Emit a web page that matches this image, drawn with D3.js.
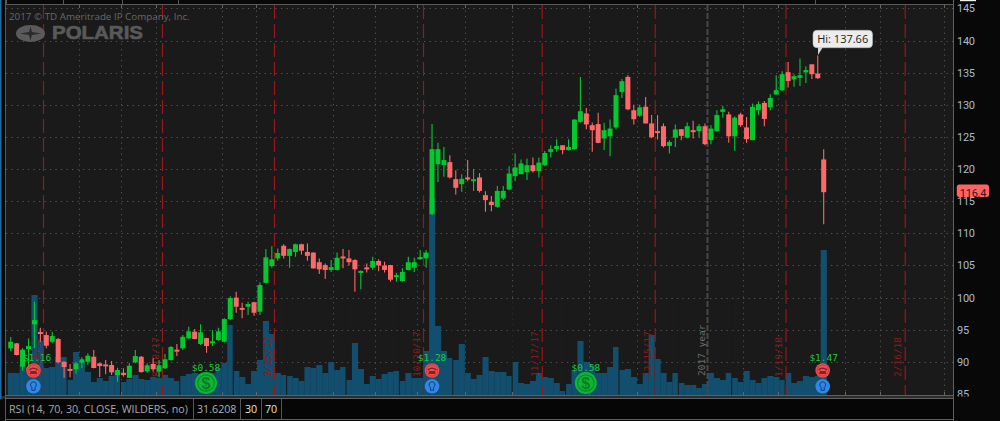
<!DOCTYPE html>
<html>
<head>
<meta charset="utf-8">
<style>
html,body{margin:0;padding:0;background:#0a0a0a;overflow:hidden}
svg{display:block}
text{white-space:pre}
</style>
<script src="https://cdn.jsdelivr.net/npm/d3@7/dist/d3.min.js"></script>
</head>
<body>
<svg id="c" width="1000" height="421"></svg>
<script>
const opens=[92.1,92.88,89.25,91.99,95.84,94.65,94.17,93.13,93.55,90.02,88.9,88.84,89.87,90.02,90.8,89.77,89.6,89.51,87.95,88.3,87.5,89.93,90.8,88.53,89.67,88.47,89,90.29,91.9,92.1,93.66,94.69,92.78,93.7,93,93.4,93.13,96.66,100,98.4,98.57,99.27,97.8,102.3,104.9,106.1,108.06,106.5,107.1,108.3,107.1,107,105.5,105.06,104.3,104.3,106.4,106.1,105.84,104,104.7,104.65,105.7,105,105.06,103.2,102.57,104.3,104.65,106.1,106.1,113,120.76,120.6,121.08,118.43,117.65,118.7,118.12,118.7,115.94,114.9,114.13,115.43,116.83,118.9,119.2,119.5,120.6,119.67,120.6,122.68,123.1,123.7,122.95,123.1,127.34,128.65,126.83,127,124.77,125.1,126.48,132,134.34,129.15,128.3,129.7,127.1,125.9,126.67,123.6,124.9,126.2,124.9,126.05,125.9,126.67,124.5,125.9,128.9,128.5,125.1,128.5,126.48,124.5,129.15,130.3,129.6,131.6,132.27,135.07,133.94,134.2,135.05,136.3,134.87,121.5];
const highs=[93.86,92.95,92.1,93.66,99.35,95.3,94.69,94.69,93.7,90.05,89.67,90.02,90.7,91.33,91.84,89.87,90.29,90.13,89.09,89,89.77,91.84,90.9,89.77,90.55,90.29,91.22,92.46,92.78,94.17,95.47,95.1,95.84,93.75,94.95,95.3,96.8,100.2,100.9,99.2,99.35,99.35,102.37,107.55,108,107.65,108.3,107.65,108.4,108.4,108.4,107.05,106.1,105.3,105.84,107,107.55,107.4,105.95,104.2,105.3,106.35,105.95,105.57,105.1,103.86,104.55,106.35,106.2,107.4,107.4,127,124.08,123.45,122.16,119.83,119.2,121.4,120,119.37,116.56,115.8,117.35,117.35,120.45,122.43,121.5,121.65,121.8,121.8,122.83,123.7,124.65,123.7,124.65,127.75,134.34,129.5,127.25,128.75,127.2,127.7,132.54,134,134.6,130,130,131.2,128.4,128.4,127.1,124.5,126.94,126.2,127.25,127.5,127,127.1,126.83,129.15,129.8,128.9,128.23,128.75,128.1,130.2,130.56,130.6,131.65,134.6,135.22,136.67,134.76,137.2,136,136.3,137.66,123.1];
const lows=[91.69,91,88.6,89.15,92.15,93.13,92.1,92.88,89.8,87.53,87.6,88.2,89,89.51,89,87.64,88.06,87.95,86.9,87.7,87.44,89.77,88.3,88.3,88.47,87.6,88.89,90.18,90.9,91.84,93.55,93.5,92.62,91.42,92.46,93.3,93,96.5,97.64,96.77,97.3,97.18,97.3,102.2,104.64,105.73,106.1,104.64,106.35,106.7,105.73,104.5,103.66,102.9,104,104.2,104.55,105,100.9,101.3,103.9,104.3,104.1,103.9,102.47,102.47,102.47,104.2,104,105.84,104.64,112.84,118,118.8,118.54,116.05,116.46,118.12,116.6,116.36,113.35,113.45,114,115.17,116.7,118.12,119.2,118.3,119.47,118.7,120.45,121.8,122.68,122.3,122.9,123,127.2,126.2,122.68,124,122.95,122,126.2,131.07,129.15,126.94,128.1,127.1,124.8,124.6,123.36,122.43,123.45,124.5,124.77,124.77,124.9,123.7,123.88,125.8,128,124.08,122.83,126.56,124.08,124.5,128.4,126.67,129.15,131.6,132.16,132.7,132.8,132.94,133.4,134,134,111.4];
const closes=[93.13,91.07,91.89,92.46,96.5,94.5,92.51,94.02,89.93,89.2,88.8,89.77,90.4,90.96,89.04,89.35,89.5,88.37,88.73,87.95,89.4,90.9,88.42,89.46,88.84,89.46,90.4,92.31,91.7,93.9,94.75,93.55,94.6,92.46,93.2,94.75,96.66,99.93,98.58,98.25,99,97.64,101.95,106.26,105.95,106.93,106.5,107.55,108.3,107.3,106.5,104.55,104.4,104.3,104.75,106.2,106.25,105.5,104.4,104.15,104.55,105.7,105,104.3,102.78,103.5,104,105.5,105.5,106.3,107,123.1,123.1,121.4,118.7,117.08,118.48,118.43,118.43,116.6,115.17,114.4,116.6,116.6,119.3,120.25,120.87,120.6,119.67,121,122.5,123.1,123.6,122.95,123.45,127.7,129,126.94,126.05,124.08,126.05,126.3,131.5,133.67,129.3,127.76,129.6,127.1,124.96,125.63,123.56,124.2,126.16,125.17,126.67,125.74,126.67,123.88,126.3,128.4,129.3,125.1,128,126.83,124.65,129.68,130.1,127.8,131.07,132.27,134.76,133.7,134.45,134.6,135.4,134.76,134.14,116.4];
const volumes=[22,22,30,28,100,54,27,28,38,38,15,43,34,23,13,17,14,19,23,13,16,20,16,15,18,17,20,17,14,19,21,22,21,22,22,27,32,70,24,18,11,24,35,74,61,22,20,19,17,14,28,27,30,22,33,25,28,15,52,26,11,19,16,21,23,24,14,22,17,17,44,196,69,44,37,35,51,22,16,20,38,24,23,23,19,33,12,11,14,22,18,17,12,4,11,25,54,33,30,22,22,28,48,25,26,18,11,22,60,36,22,13,22,12,10,10,7,11,22,17,15,22,17,13,24,15,12,17,19,18,15,22,12,14,19,18,19,145];
const periodEnds=[9,18,28,37,46,56,65,74,84,93,102,112,121,130];
const priceTicks=[145,140,135,130,125,120,115,110,105,100,95,90,85];
const gridXs=[79,121,156,222,256,333,375,417,465,512,589,637,743,778,845,880,944];
const expiryXs=[43,162,274,423,541.7,654.7,785.5,904.7];
const expiryLabels=["7/21/17","8/18/17","9/15/17","10/20/17","11/17/17","12/15/17","1/19/18","2/16/18"];
const yearX=707, yearLabel="2017 year";
const earnings=[{i:4,t:"$1.16"},{i:71,t:"$1.28"},{i:137,t:"$1.47"}];
const dividends=[{i:33,t:"$0.58"},{i:97,t:"$0.58"}];
const rsiFields=["RSI (14, 70, 30, CLOSE, WILDERS, no)","31.6208","30","70"];
const hiText="Hi: 137.66", lastText="116.4";
const copyright="2017 © TD Ameritrade IP Company, Inc.", logoText="POLARIS";

const svg=d3.select("#c");
const x=d3.scaleLinear().domain([0,137]).range([10.7,823.7]);
const y=d3.scaleLinear().domain([85,145]).range([394,8.4]);
const v=d3.scaleLinear().domain([0,200]).range([395,195]);
const step=x(1)-x(0);
const GREEN="#04c830",RED="#ff6868",BLUE="#124f6e",EVT="#9c1616";

svg.append("rect").attr("width",1000).attr("height",421).attr("fill","#080808");
svg.append("rect").attr("x",6).attr("y",4).attr("width",947).attr("height",392).attr("fill","#1a1a1a");
svg.append("defs").append("clipPath").attr("id","plot").append("rect").attr("x",6).attr("y",5).attr("width",947).attr("height",391);
svg.select("defs").append("clipPath").attr("id","axisclip").append("rect").attr("x",954).attr("y",0).attr("width",46).attr("height",396.5);

const plot=svg.append("g").attr("clip-path","url(#plot)");
// grid
plot.append("g").selectAll("line").data(priceTicks.filter(d=>d>85)).join("line")
 .attr("x1",6).attr("x2",953).attr("y1",d=>Math.round(y(d))+.5).attr("y2",d=>Math.round(y(d))+.5)
 .attr("stroke","#545454").attr("stroke-dasharray","1.3,4.2");
plot.append("g").selectAll("line").data(gridXs).join("line")
 .attr("x1",d=>d+.5).attr("x2",d=>d+.5).attr("y1",5).attr("y2",396)
 .attr("stroke","#505050").attr("stroke-dasharray","1.3,4.2");
// volume
plot.append("g").selectAll("rect").data(volumes).join("rect")
 .attr("x",(d,i)=>x(i)-step/2).attr("width",step+.2).attr("y",d=>v(d)).attr("height",d=>395.5-v(d)).attr("fill",BLUE);
plot.append("g").selectAll("line").data(periodEnds).join("line")
 .attr("x1",d=>x(d)+step/2).attr("x2",d=>x(d)+step/2).attr("y1",300).attr("y2",396)
 .attr("stroke","#1a1a1a").attr("stroke-width",1);
// expiry lines
plot.append("g").selectAll("line").data(expiryXs).join("line")
 .attr("x1",d=>d+.5).attr("x2",d=>d+.5).attr("y1",5).attr("y2",396)
 .attr("stroke",EVT).attr("stroke-width",1.2).attr("stroke-dasharray","14,5");
plot.append("line").attr("x1",yearX+.5).attr("x2",yearX+.5).attr("y1",5).attr("y2",396)
 .attr("stroke","#474747").attr("stroke-width",2).attr("stroke-dasharray","6,2");
plot.append("g").selectAll("text").data(expiryLabels).join("text")
 .attr("transform",(d,i)=>`translate(${expiryXs[i]-3.5},377) rotate(-90)`)
 .attr("font-family","'DejaVu Sans Mono'").attr("font-size",9.5).attr("fill","#8c1a1a").text(d=>d);
plot.append("text").attr("transform",`translate(${yearX-2.5},376) rotate(-90)`)
 .attr("font-family","'DejaVu Sans Mono'").attr("font-size",9.5).attr("fill","#6e6e6e").text(yearLabel);
// watermark
plot.append("text").attr("x",9).attr("y",20).attr("font-family","'Open Sans'").attr("font-size",9.8).attr("fill","#686868").text(copyright);
plot.append("ellipse").attr("cx",30.5).attr("cy",33.5).attr("rx",14.5).attr("ry",8.5).attr("fill","#5a5a5a");
plot.append("path").attr("d","M30.5,26.5 L32,32 L41,33.5 L32,35 L30.5,40.5 L29,35 L20,33.5 L29,32Z").attr("fill","#2b2b2b");
plot.append("text").attr("x",52).attr("y",39).attr("font-family","'Liberation Sans'").attr("font-weight","bold").attr("font-size",17.5).attr("fill","#595959").attr("stroke","#595959").attr("stroke-width",.6).attr("textLength",91).attr("lengthAdjust","spacingAndGlyphs").text(logoText);
// candles
const idx=d3.range(opens.length);
const col=i=>closes[i]>=opens[i]?GREEN:RED;
const cg=plot.append("g");
cg.selectAll("line").data(idx).join("line")
 .attr("x1",i=>x(i)).attr("x2",i=>x(i)).attr("y1",i=>y(highs[i])).attr("y2",i=>y(lows[i]))
 .attr("stroke",i=>col(i)).attr("stroke-width",1.1);
cg.selectAll("rect").data(idx).join("rect")
 .attr("x",i=>x(i)-2.5).attr("width",5)
 .attr("y",i=>y(Math.max(opens[i],closes[i])))
 .attr("height",i=>Math.max(2,Math.abs(y(opens[i])-y(closes[i]))))
 .attr("fill",i=>col(i));
// event icons
const mono={"font-family":"'DejaVu Sans Mono'","font-size":9.5,"fill":"#1fc83a","text-anchor":"middle"};
function attrs(s,o){for(const k in o)s.attr(k,o[k]);return s}
earnings.forEach(e=>{
 const cx=x(e.i)-(e.i==4?1:0)-(e.i==137?1:0);
 attrs(plot.append("text").attr("x",e.i==4?37:x(e.i)).attr("y",361),mono).text(e.t);
 const r=plot.append("g").attr("transform",`translate(${cx},370.5)`);
 r.append("circle").attr("r",7.3).attr("fill","#f34c4c");
 r.append("circle").attr("r",5.7).attr("fill","none").attr("stroke","#a83838").attr("stroke-width",.7);
 r.append("path").attr("d","M-4.3,-1.6 Q0,-4.6 4.3,-1.6 L4.3,-.2 L2.2,-.2 L2.2,-1.4 L-2.2,-1.4 L-2.2,-.2 L-4.3,-.2Z M-3,0.4 L3,0.4 L3.6,3.4 L-3.6,3.4Z").attr("fill","#7d2526");
 const b=plot.append("g").attr("transform",`translate(${cx},386.3)`);
 b.append("circle").attr("r",7.3).attr("fill","#2f87e8");
 b.append("path").attr("d","M0,-4.5 A3,3 0 0 1 1.6,1 L1.6,4 L-1.6,4 L-1.6,1 A3,3 0 0 1 0,-4.5Z").attr("fill","none").attr("stroke","#123f70").attr("stroke-width",1);
});
dividends.forEach(e=>{
 const cx=e.i==33?206:x(e.i)-.5;
 attrs(plot.append("text").attr("x",cx).attr("y",370.5),mono).text(e.t);
 const g=plot.append("g").attr("transform",`translate(${cx},383)`);
 g.append("circle").attr("r",11).attr("fill","#0cb832");
 g.append("circle").attr("r",8.2).attr("fill","none").attr("stroke","#0a8a2b").attr("stroke-width",1.2);
 g.append("text").attr("y",5.5).attr("text-anchor","middle").attr("font-family","'Liberation Sans'").attr("font-size",16).attr("font-weight","bold").attr("fill","#0a7a28").text("$");
});
// frame top and bottom
svg.append("rect").attr("x",6).attr("y",0).attr("width",947).attr("height",4).attr("fill","#080808");
svg.append("line").attr("x1",5).attr("x2",954).attr("y1",4.5).attr("y2",4.5).attr("stroke","#5a5a5a");
svg.append("g").selectAll("line").data([6.5,63.5,122.5,178.5,815.5]).join("line").attr("x1",d=>d).attr("x2",d=>d).attr("y1",0).attr("y2",4).attr("stroke","#5a5a5a");
svg.append("g").selectAll("line").data(gridXs).join("line").attr("x1",d=>d+.5).attr("x2",d=>d+.5).attr("y1",5).attr("y2",8).attr("stroke","#666");
svg.append("g").selectAll("line").data(gridXs).join("line").attr("x1",d=>d+.5).attr("x2",d=>d+.5).attr("y1",392).attr("y2",396).attr("stroke","#666");
svg.append("rect").attr("x",0).attr("y",396).attr("width",954).attr("height",3).attr("fill","#2c2c2c");
svg.append("line").attr("x1",5).attr("x2",954).attr("y1",395.5).attr("y2",395.5).attr("stroke","#5f5f5f");
svg.append("line").attr("x1",5).attr("x2",954).attr("y1",398.5).attr("y2",398.5).attr("stroke","#5f5f5f");
svg.append("rect").attr("x",6).attr("y",399).attr("width",947).attr("height",20).attr("fill","#060606");
svg.append("line").attr("x1",5).attr("x2",954).attr("y1",419.5).attr("y2",419.5).attr("stroke","#5f5f5f");
svg.append("rect").attr("x",0).attr("y",0).attr("width",1.5).attr("height",399).attr("fill","#1f6a9e");
svg.append("line").attr("x1",5.5).attr("x2",5.5).attr("y1",0).attr("y2",421).attr("stroke","#5a5a5a");
svg.append("line").attr("x1",953.5).attr("x2",953.5).attr("y1",0).attr("y2",421).attr("stroke","#5f5f5f");
// RSI bar
const f=[{x:9,c:"#a8a8a8"},{x:197,c:"#b0b0b0"},{x:245,c:"#e8e4c8"},{x:265,c:"#e8e4c8"}];
svg.append("g").selectAll("text").data(rsiFields).join("text")
 .attr("x",(d,i)=>f[i].x).attr("y",413).attr("font-family","'Open Sans'").attr("font-size",10.7)
 .attr("fill",(d,i)=>f[i].c).text(d=>d);
svg.append("g").selectAll("line").data([193.5,240.5,261.5,281.5]).join("line")
 .attr("x1",d=>d).attr("x2",d=>d).attr("y1",399).attr("y2",419).attr("stroke","#555");
// price axis
const ax=svg.append("g").attr("clip-path","url(#axisclip)").append("g").attr("transform","translate(953.5,0)")
 .call(d3.axisRight(y).tickValues(priceTicks).tickSize(0).tickPadding(3.5).tickFormat(d3.format("d")));
ax.select(".domain").remove();
ax.selectAll("text").attr("font-family","Roboto").attr("font-size",11).attr("letter-spacing","-.3").attr("fill","#a9bbcb");
svg.append("rect").attr("x",960).attr("y",0).attr("width",16).attr("height",1.2).attr("fill","#eee");
// last price tag
svg.append("rect").attr("x",956.8).attr("y",184.5).attr("width",32.2).attr("height",12.5).attr("rx",2.5).attr("fill","#ff6464");
svg.append("text").attr("x",973).attr("y",y(closes[137])+.5).attr("dy",".35em").attr("text-anchor","middle").attr("font-family","Roboto").attr("font-size",11).attr("letter-spacing","-.2").attr("fill","#3a1414").text(lastText);
// high callout
svg.append("path").attr("d","M818,55 L818,47 L823,47Z").attr("fill","#d8d8d8");
svg.append("rect").attr("x",813).attr("y",30.3).attr("width",59.5).attr("height",17.4).attr("rx",4).attr("fill","#ececec").attr("stroke","#bdbdbd").attr("stroke-width",.6);
svg.append("text").attr("x",842.7).attr("y",39.2).attr("dy",".36em").attr("text-anchor","middle").attr("font-family","'Open Sans'").attr("font-size",11).attr("fill","#222").text(hiText);
</script>
</body>
</html>
